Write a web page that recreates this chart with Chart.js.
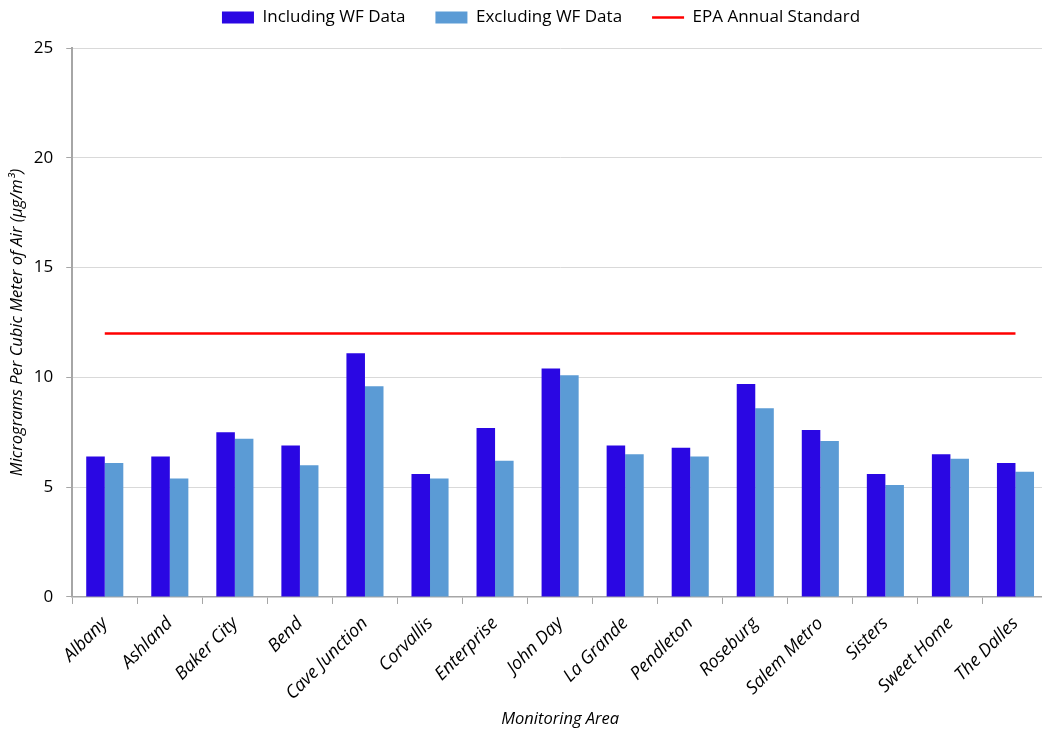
<!DOCTYPE html>
<html>
<head>
<meta charset="utf-8">
<script src="https://cdn.jsdelivr.net/npm/chart.js@4"></script>
<style>
html,body{margin:0;padding:0;background:#fff;overflow:hidden;width:1042px;height:731px;}
canvas{display:block;}
</style>
</head>
<body>
<canvas id="c" width="1048" height="731"></canvas>
<script>
const categories = ["Albany","Ashland","Baker City","Bend","Cave Junction","Corvallis","Enterprise","John Day","La Grande","Pendleton","Roseburg","Salem Metro","Sisters","Sweet Home","The Dalles"];
const includingWF = [6.4,6.4,7.5,6.9,11.1,5.6,7.7,10.4,6.9,6.8,9.7,7.6,5.6,6.5,6.1];
const excludingWF = [6.1,5.4,7.2,6.0,9.6,5.4,6.2,10.1,6.5,6.4,8.6,7.1,5.1,6.3,5.7];
const epaStandard = 12;
const yTicks = [0,5,10,15,20,25];

const FONT = "'Open Sans', sans-serif";
const LEGEND_EXTRA_H = 12;
const LEGEND_DX = 13.5;

const legendTweak = {
  id:'legendTweak',
  beforeLayout(chart){
    const lg = chart.legend;
    if(lg && !lg._wrapped){
      const orig = lg.fit;
      lg.fit = function(){ orig.call(this); this.height += LEGEND_EXTRA_H; };
      lg._wrapped = true;
    }
  },
  afterLayout(chart){
    const lg = chart.legend;
    if(lg){ lg.left += LEGEND_DX; lg.right += LEGEND_DX; }
  }
};

const ctx = document.getElementById('c');
new Chart(ctx, {
  type: 'bar',
  data: {
    labels: categories,
    datasets: [
      {label:'Including WF Data', data: includingWF, backgroundColor:'#2a07e3', borderWidth:0, categoryPercentage:0.57, barPercentage:1.0, order:2},
      {label:'Excluding WF Data', data: excludingWF, backgroundColor:'#5b9bd5', borderWidth:0, categoryPercentage:0.57, barPercentage:1.0, order:2},
      {type:'line', label:'EPA Annual Standard', data: categories.map(()=>epaStandard), borderColor:'#ff0000', backgroundColor:'#ff0000', borderWidth:2.6, pointRadius:0, fill:false, order:1}
    ]
  },
  plugins:[legendTweak],
  options: {
    responsive:false,
    animation:false,
    layout:{padding:{top:-21,left:7,right:0,bottom:2}},
    plugins:{
      tooltip:{enabled:false},
      legend:{
        position:'top',
        labels:{
          font:{family:FONT,size:17},
          color:'#000',
          usePointStyle:true,
          pointStyleWidth:32,
          boxHeight:12,
          padding:30,
          generateLabels:(chart)=>{
            const items = Chart.defaults.plugins.legend.labels.generateLabels(chart);
            items.sort((a,b)=>a.datasetIndex-b.datasetIndex);
            items.forEach((it)=>{
              if(it.datasetIndex===2){it.pointStyle='line';it.lineWidth=2.6;it.strokeStyle='#ff0000';}
              else {it.pointStyle='rect';it.lineWidth=0;}
            });
            return items;
          }
        }
      }
    },
    scales:{
      x:{
        offset:true,
        grid:{display:true,drawOnChartArea:false,drawTicks:true,tickLength:7,color:'#a6a6a6',offset:true},
        border:{display:true,color:'#a6a6a6',width:1.5},
        ticks:{font:{family:FONT,size:18,style:'italic'},color:'#000',maxRotation:45,minRotation:45,padding:9,autoSkip:false},
        title:{display:true,text:'Monitoring Area',font:{family:FONT,size:16.5,style:'italic'},color:'#000',padding:{top:-4,bottom:0}}
      },
      y:{
        min:0,max:25,
        afterBuildTicks:(axis)=>{axis.ticks = yTicks.map(v=>({value:v}));},
        grid:{color:'#d9d9d9',tickLength:6,drawTicks:true,tickColor:'#a6a6a6'},
        border:{display:true,color:'#a6a6a6',width:2},
        ticks:{font:{family:FONT,size:17},color:'#000',padding:13},
        title:{display:true,text:'Micrograms Per Cubic Meter of Air (µg/m³)',font:{family:FONT,size:16.5,style:'italic'},color:'#000',padding:{top:0,bottom:-6}}
      }
    }
  }
});
</script>
</body>
</html>
